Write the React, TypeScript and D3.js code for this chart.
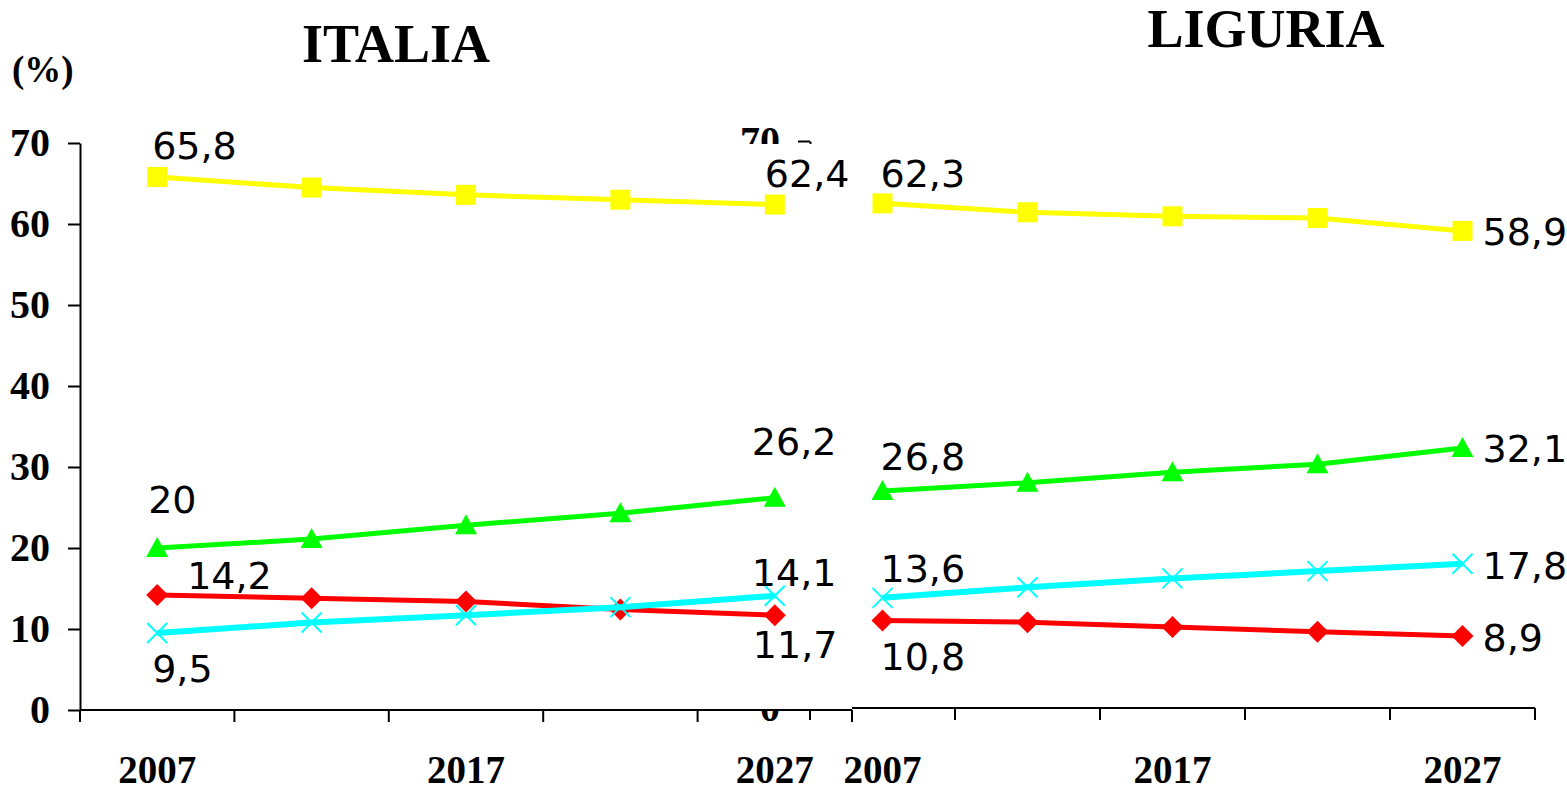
import React, { useRef, useEffect } from 'react';
import * as d3 from 'd3';

const years = ['2007', '2012', '2017', '2022', '2027'];
const yearLabels = ['2007', '2017', '2027'];
const yTicks = [0, 10, 20, 30, 40, 50, 60, 70];

// ITALIA (%)
const italia1564 = [65.8, 64.5, 63.6, 63.0, 62.4];
const italia65 = [20, 21.1, 22.8, 24.3, 26.2];
const italia014 = [14.2, 13.8, 13.4, 12.4, 11.7];
const italia75 = [9.5, 10.8, 11.7, 12.7, 14.1];

// LIGURIA (%)
const liguria1564 = [62.3, 61.2, 60.7, 60.5, 58.9];
const liguria65 = [26.8, 27.8, 29.1, 30.1, 32.1];
const liguria014 = [10.8, 10.6, 10.0, 9.4, 8.9];
const liguria75 = [13.6, 14.9, 16.0, 16.9, 17.8];

type Marker = 'square' | 'triangle' | 'diamond' | 'x';

interface Series {
  values: number[];
  color: string;
  marker: Marker;
  width: number;
  // which points carry a label, and where the label sits relative to the point
  labels: { i: number; dx: number; dy: number }[];
}

const SERIF = '"Liberation Serif", "Times New Roman", serif';
const SANS = '"DejaVu Sans", Verdana, sans-serif';

const fmt = (v: number) => String(v).replace('.', ',');

const markerPath = (m: Marker): string => {
  if (m === 'square') return 'M-10,-10H10V10H-10Z';
  if (m === 'triangle') return 'M0,-11L11,9H-11Z';
  if (m === 'diamond') return 'M0,-11L11,0L0,11L-11,0Z';
  return 'M-10,-10L10,10M-10,10L10,-10';
};

function drawPanel(
  svg: d3.Selection<SVGSVGElement, unknown, null, undefined>,
  opts: {
    x0: number; x1: number; yTop: number; yBottom: number;
    series: Series[]; coverPlot: boolean; yLabels: number[];
  }
) {
  const { x0, x1, yTop, yBottom, series, coverPlot, yLabels } = opts;
  const g = svg.append('g');

  const x = d3.scaleBand<string>().domain(years).range([x0, x1]);
  const y = d3.scaleLinear().domain([0, 70]).range([yBottom, yTop]);
  const cx = (d: string) => (x(d) || 0) + x.bandwidth() / 2;

  // white plot area (the left panel sits on top of the right one)
  if (coverPlot) {
    g.append('rect')
      .attr('x', x0)
      .attr('y', yTop + 1)
      .attr('width', x1 - x0)
      .attr('height', yBottom - yTop - 1)
      .attr('fill', 'white');
  }

  // Y axis
  const yAxis = d3.axisLeft(y)
    .tickValues(yTicks)
    .tickSize(12)
    .tickPadding(18)
    .tickSizeOuter(0)
    .tickFormat(d => (yLabels.includes(+d) ? String(d) : ''));
  const ya = g.append('g')
    .attr('transform', `translate(${x0},0)`)
    .call(yAxis);
  ya.attr('font-family', SERIF).attr('font-size', 40).attr('font-weight', 'bold');
  ya.selectAll('text').attr('fill', '#000');
  ya.selectAll('line').attr('stroke', '#000').attr('stroke-width', 2);
  ya.select('.domain').attr('stroke', '#000').attr('stroke-width', 2);

  // X axis
  const xa = g.append('g');
  xa.append('line')
    .attr('x1', x0).attr('x2', x1)
    .attr('y1', yBottom).attr('y2', yBottom)
    .attr('stroke', '#000').attr('stroke-width', 2);
  const edges = [...years.map(d => x(d) || 0), x1];
  xa.selectAll('.xtick')
    .data(edges)
    .enter()
    .append('line')
    .attr('x1', d => d).attr('x2', d => d)
    .attr('y1', yBottom).attr('y2', yBottom + 12)
    .attr('stroke', '#000').attr('stroke-width', 2);
  xa.selectAll('.xlab')
    .data(yearLabels)
    .enter()
    .append('text')
    .attr('x', d => cx(d))
    .attr('y', 783)
    .attr('text-anchor', 'middle')
    .attr('font-family', SERIF)
    .attr('font-size', 39)
    .attr('font-weight', 'bold')
    .attr('fill', '#000')
    .text(d => d);

  const line = d3.line<number>()
    .x((_, i) => cx(years[i]))
    .y(d => y(d));

  series.forEach(s => {
    g.append('path')
      .datum(s.values)
      .attr('fill', 'none')
      .attr('stroke', s.color)
      .attr('stroke-width', s.width)
      .attr('d', line);

    g.selectAll(null)
      .data(s.values)
      .enter()
      .append('path')
      .attr('transform', (d, i) => `translate(${cx(years[i])},${y(d)})`)
      .attr('d', markerPath(s.marker))
      .attr('fill', s.marker === 'x' ? 'none' : s.color)
      .attr('stroke', s.marker === 'x' ? s.color : 'none')
      .attr('stroke-width', 2);

    s.labels.forEach(l => {
      g.append('text')
        .attr('x', cx(years[l.i]) + l.dx)
        .attr('y', y(s.values[l.i]) + l.dy)
        .attr('font-family', SANS)
        .attr('font-size', 38)
        .attr('fill', '#000')
        .text(fmt(s.values[l.i]));
    });
  });
}

const App: React.FC = () => {
  const svgRef = useRef<SVGSVGElement | null>(null);

  useEffect(() => {
    if (!svgRef.current) return;
    const svg = d3.select(svgRef.current);
    svg.selectAll('*').remove();

    svg.append('rect').attr('width', 1567).attr('height', 792).attr('fill', 'white');

    // LIGURIA drawn first, ITALIA overlaps its y axis (only 0 and 70 peek out)
    drawPanel(svg, {
      x0: 810, x1: 1535, yTop: 141, yBottom: 708, coverPlot: false, yLabels: [0, 70],
      series: [
        { values: liguria1564, color: '#FFFF00', marker: 'square', width: 5, labels: [{ i: 0, dx: -2, dy: -16 }, { i: 4, dx: 20, dy: 14 }] },
        { values: liguria65, color: '#00FF00', marker: 'triangle', width: 5, labels: [{ i: 0, dx: -2, dy: -21 }, { i: 4, dx: 20, dy: 14 }] },
        { values: liguria75, color: '#00FFFF', marker: 'x', width: 6, labels: [{ i: 0, dx: -2, dy: -16 }, { i: 4, dx: 20, dy: 15 }] },
        { values: liguria014, color: '#FF0000', marker: 'diamond', width: 5, labels: [{ i: 0, dx: -2, dy: 49 }, { i: 4, dx: 20, dy: 15 }] },
      ],
    });

    drawPanel(svg, {
      x0: 80, x1: 852, yTop: 143, yBottom: 710, coverPlot: true, yLabels: yTicks,
      series: [
        { values: italia1564, color: '#FFFF00', marker: 'square', width: 5, labels: [{ i: 0, dx: -5, dy: -18 }, { i: 4, dx: -10, dy: -18 }] },
        { values: italia65, color: '#00FF00', marker: 'triangle', width: 5, labels: [{ i: 0, dx: -9, dy: -35 }, { i: 4, dx: -23, dy: -43 }] },
        { values: italia014, color: '#FF0000', marker: 'diamond', width: 5, labels: [{ i: 0, dx: 30, dy: -6 }, { i: 4, dx: -22, dy: 43 }] },
        { values: italia75, color: '#00FFFF', marker: 'x', width: 6, labels: [{ i: 0, dx: -5, dy: 49 }, { i: 4, dx: -23, dy: -10 }] },
      ],
    });

    // titles and unit
    svg.append('text')
      .attr('x', 396).attr('y', 62)
      .attr('text-anchor', 'middle')
      .attr('font-family', SERIF).attr('font-size', 54).attr('font-weight', 'bold')
      .text('ITALIA');
    svg.append('text')
      .attr('x', 1266).attr('y', 47)
      .attr('text-anchor', 'middle')
      .attr('font-family', SERIF).attr('font-size', 54).attr('font-weight', 'bold')
      .text('LIGURIA');
    svg.append('text')
      .attr('x', 12).attr('y', 82)
      .attr('font-family', SERIF).attr('font-size', 37).attr('font-weight', 'bold')
      .text('(%)');
  }, []);

  return (
    <div style={{ position: 'absolute', left: 0, top: 0 }}>
      <svg ref={svgRef} width={1567} height={792} style={{ display: 'block' }} />
    </div>
  );
};

export default App;
